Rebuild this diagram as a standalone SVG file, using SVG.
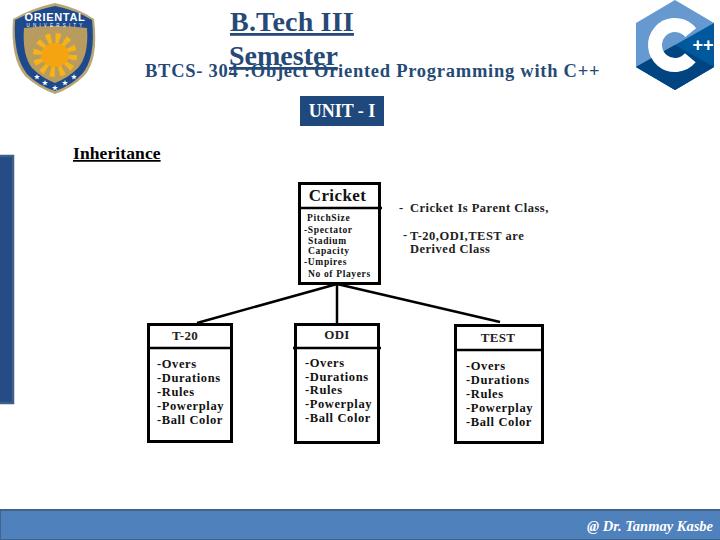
<svg xmlns="http://www.w3.org/2000/svg" width="720" height="540" viewBox="0 0 720 540">
<style>
text{font-family:"Liberation Serif","Times New Roman",serif}
.h{fill:#264a78;font-weight:bold}
.box{fill:#fff;stroke:#000;stroke-width:3}
.div{stroke:#000;stroke-width:2.5;fill:none}
.con{stroke:#000;stroke-width:2.5;fill:none}
.t{fill:#111;font-weight:bold;font-size:12.5px;letter-spacing:.6px}
.s{fill:#111;font-weight:bold;font-size:9.5px;letter-spacing:.65px}
.n{fill:#222;font-weight:bold;font-size:12.5px;letter-spacing:.5px}
.c{fill:#222;font-weight:bold;font-size:13px;letter-spacing:.3px;text-anchor:middle}
</style>
<defs><polygon id="star" points="0,-3 .8,-.9 3,-.9 1.2,.4 1.9,2.5 0,1.2 -1.9,2.5 -1.2,.4 -3,-.9 -.8,-.9" fill="#fff"/></defs>
<rect width="720" height="540" fill="#fff"/>
<g id="university-logo">
<path d="M55 3 Q78 8 94 19 Q99 60 84 76 Q72 88 55 94 Q38 88 25 76 Q10 58 13 19 Q32 8 55 3Z" fill="#b9a677"/>
<path d="M55 6 Q76 10 92 20 Q96 58 82 74 Q71 86 55 91 Q39 86 27 74 Q13 56 15 20 Q34 10 55 6Z" fill="#1e4a8c"/>
<path d="M24 28 Q55 24 87 28 Q89 55 78 68 Q68 78 55 83 Q42 78 32 68 Q22 55 24 28Z" fill="#b89b5e"/>
<circle cx="55" cy="55" r="17" fill="none" stroke="#f7b417" stroke-width="10" stroke-dasharray="4.500 4.400"/>
<ellipse cx="55" cy="55" rx="14" ry="12" fill="#f4a410"/>
<text x="55" y="21" font-size="11" font-weight="bold" fill="#fff" text-anchor="middle" style="font-family:'Liberation Sans',sans-serif" letter-spacing=".7">ORIENTAL</text>
<text x="56" y="27" font-size="4.500" fill="#fff" text-anchor="middle" style="font-family:'Liberation Sans',sans-serif" letter-spacing="3.200">UNIVERSITY</text>
<use href="#star" x="37" y="77"/><use href="#star" x="45" y="83"/><use href="#star" x="55" y="88"/><use href="#star" x="65" y="83"/><use href="#star" x="74" y="77"/>
</g>
<g id="cpp-logo">
<polygon points="675,0 714,23 714,67 675,90 636,67 636,23" fill="#6699cf"/>
<polygon points="714,23 714,67 675,90 636,67 675,45" fill="#00599c"/>
<polygon points="636,67 675,45 714,67 675,90" fill="#004482"/>
<circle cx="675" cy="45" r="20" fill="none" stroke="#fff" stroke-width="14" stroke-dasharray="97.700 28" transform="rotate(40 675 45)"/>
<text x="703" y="51" font-size="18" font-weight="bold" fill="#fff" text-anchor="middle" style="font-family:'Liberation Sans',sans-serif">++</text>
</g>
<g id="title">
<text class="h" x="230" y="31" font-size="28" letter-spacing=".2" text-decoration="underline">B.Tech III</text>
<text class="h" x="229" y="65" font-size="28" text-decoration="underline">Semester</text>
<text class="h" x="145" y="77" font-size="18.500" letter-spacing=".74">BTCS- 304 :Object Oriented Programming with C++</text>
</g>
<g id="unit">
<rect x="300" y="96" width="84" height="30" fill="#1f497d"/>
<text x="342" y="117" font-size="18" font-weight="bold" fill="#fff" text-anchor="middle">UNIT - I</text>
</g>
<text x="73" y="159" font-size="17.500" letter-spacing=".1" font-weight="bold" fill="#000" text-decoration="underline">Inheritance</text>
<rect id="side-bar" x="-2" y="156" width="15" height="247" fill="#254c85" stroke="#3d5f88" stroke-width="2.500"/>
<g id="connectors">
<path class="con" d="M337 284 L197 323"/>
<path class="con" d="M337 284 L337 323"/>
<path class="con" d="M337 284 L500 322"/>
</g>
<g id="cricket">
<rect class="box" x="299.500" y="183.500" width="80" height="100"/>
<path class="div" d="M300 208 H382"/>
<text x="337.500" y="201" font-size="17" font-weight="bold" fill="#111" text-anchor="middle" letter-spacing=".4">Cricket</text>
<text class="s" x="307" y="221">PitchSize</text>
<text class="s" x="304" y="233">-Spectator</text>
<text class="s" x="308" y="244">Stadium</text>
<text class="s" x="308" y="254">Capacity</text>
<text class="s" x="304" y="265">-Umpires</text>
<text class="s" x="308" y="277">No of Players</text>
</g>
<g id="notes">
<text class="n" x="399" y="212">-</text>
<text class="n" x="410" y="212">Cricket Is Parent Class,</text>
<text class="n" x="403" y="239">-</text>
<text class="n" x="410" y="240">T-20,ODI,TEST are</text>
<text class="n" x="410" y="253">Derived Class</text>
</g>
<g id="t20">
<rect class="box" x="148.500" y="324.500" width="83" height="117"/>
<path class="div" d="M149 348 H232"/>
<text class="c" x="185" y="340">T-20</text>
<text class="t" x="157" y="368">-Overs</text>
<text class="t" x="157" y="382">-Durations</text>
<text class="t" x="157" y="396">-Rules</text>
<text class="t" x="157" y="410">-Powerplay</text>
<text class="t" x="157" y="424">-Ball Color</text>
</g>
<g id="odi">
<rect class="box" x="295.500" y="324.500" width="83" height="118"/>
<path class="div" d="M293 348 H381"/>
<text class="c" x="337" y="339">ODI</text>
<text class="t" x="305" y="367">-Overs</text>
<text class="t" x="305" y="381">-Durations</text>
<text class="t" x="305" y="394">-Rules</text>
<text class="t" x="305" y="408">-Powerplay</text>
<text class="t" x="305" y="422">-Ball Color</text>
</g>
<g id="test">
<rect class="box" x="455.500" y="325.500" width="87" height="117"/>
<path class="div" d="M456 350 H543"/>
<text class="c" x="498" y="342">TEST</text>
<text class="t" x="466" y="370">-Overs</text>
<text class="t" x="466" y="384">-Durations</text>
<text class="t" x="466" y="398">-Rules</text>
<text class="t" x="466" y="412">-Powerplay</text>
<text class="t" x="466" y="426">-Ball Color</text>
</g>
<g id="footer">
<rect x="0" y="510" width="722" height="30" fill="#4f81bd" stroke="#3f6390" stroke-width="2"/>
<text x="713" y="531" font-size="14.500" font-weight="bold" font-style="italic" fill="#fff" text-anchor="end">@ Dr. Tanmay Kasbe</text>
</g>
</svg>
